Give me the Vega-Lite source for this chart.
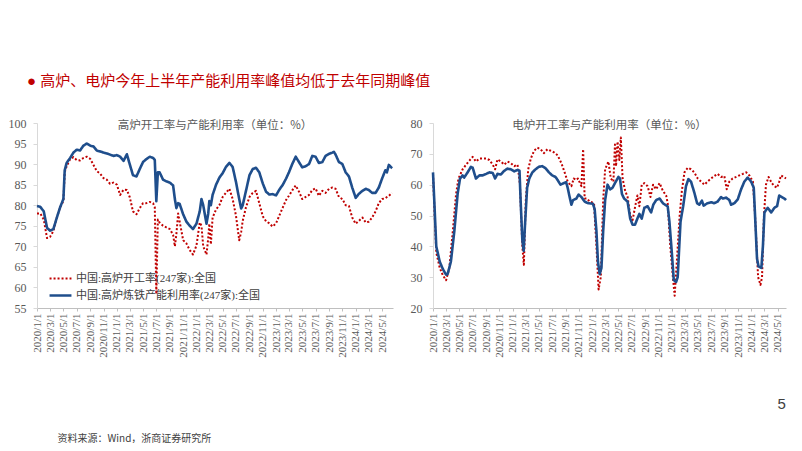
{
  "$schema": "https://vega.github.io/schema/vega-lite/v6.json",
  "background": "white",
  "padding": {"left": 8, "top": 74, "right": 0, "bottom": 0},
  "title": {"text": "●  高炉、电炉今年上半年产能利用率峰值均低于去年同期峰值", "anchor": "start", "dx": 19, "offset": 28, "font": "Liberation Sans, Noto Sans CJK SC", "fontSize": 15, "fontWeight": "normal", "color": "#C00000"},
  "spacing": 16,
  "config": {
    "view": {"stroke": null},
    "axis": {"grid": false, "labelFont": "Liberation Serif", "labelColor": "#595959", "domainColor": "#BFBFBF", "tickColor": "#BFBFBF"},
    "line": {"strokeCap": "butt", "strokeJoin": "round"}
  },
  "hconcat": [
    {
      "width": 356,
      "height": 185,
      "title": {"text": "高炉开工率与产能利用率（单位：%）", "offset": -14, "fontSize": 11.5, "font": "Noto Sans CJK SC", "fontWeight": "normal", "color": "#595959", "anchor": "middle"},
      "data": {"values": [
        {"d":"2020-01-01","a":78.0,"b":79.8},{"d":"2020-01-16","a":78.0,"b":79.6},{"d":"2020-02-01","a":76.5,"b":78.5},{"d":"2020-02-16","a":72.0,"b":74.5},
        {"d":"2020-03-01","a":72.3,"b":73.8},{"d":"2020-03-16","a":73.7,"b":74.2},{"d":"2020-04-01","a":77.0,"b":77.0},{"d":"2020-04-16","a":79.5,"b":79.5},
        {"d":"2020-05-01","a":81.0,"b":81.5},{"d":"2020-05-07","a":88.0,"b":88.5},{"d":"2020-05-16","a":89.5,"b":90.3},{"d":"2020-06-01","a":91.2,"b":91.5},
        {"d":"2020-06-16","a":91.7,"b":92.8},{"d":"2020-07-01","a":91.0,"b":93.5},{"d":"2020-07-16","a":90.9,"b":93.3},{"d":"2020-08-01","a":91.5,"b":94.5},
        {"d":"2020-08-16","a":91.8,"b":95.0},{"d":"2020-09-01","a":91.3,"b":94.5},{"d":"2020-09-16","a":89.8,"b":94.3},{"d":"2020-10-01","a":88.3,"b":93.3},
        {"d":"2020-10-16","a":87.7,"b":93.1},{"d":"2020-11-01","a":86.6,"b":92.8},{"d":"2020-11-16","a":86.2,"b":92.6},{"d":"2020-12-01","a":85.2,"b":92.3},
        {"d":"2020-12-16","a":85.5,"b":92.0},{"d":"2021-01-01","a":85.0,"b":92.2},{"d":"2021-01-16","a":82.5,"b":91.8},{"d":"2021-02-01","a":83.8,"b":90.8},
        {"d":"2021-02-16","a":83.7,"b":92.4},{"d":"2021-03-01","a":82.0,"b":90.0},{"d":"2021-03-16","a":78.5,"b":87.3},{"d":"2021-04-01","a":77.8,"b":87.0},
        {"d":"2021-04-16","a":79.3,"b":88.8},{"d":"2021-05-01","a":80.5,"b":90.5},{"d":"2021-05-16","a":80.5,"b":91.2},{"d":"2021-06-01","a":80.8,"b":91.8},
        {"d":"2021-06-16","a":80.5,"b":91.5},{"d":"2021-06-24","a":79.5,"b":91.0},{"d":"2021-07-01","a":58.4,"b":81.0},{"d":"2021-07-08","a":76.5,"b":88.0},
        {"d":"2021-07-16","a":75.8,"b":88.0},{"d":"2021-08-01","a":75.0,"b":86.2},{"d":"2021-08-16","a":74.6,"b":85.8},{"d":"2021-09-01","a":74.2,"b":85.5},
        {"d":"2021-09-16","a":72.8,"b":84.8},{"d":"2021-09-24","a":70.0,"b":81.5},{"d":"2021-10-01","a":73.0,"b":79.3},{"d":"2021-10-09","a":78.0,"b":80.5},
        {"d":"2021-10-16","a":76.0,"b":80.3},{"d":"2021-11-01","a":71.5,"b":77.8},{"d":"2021-11-16","a":70.7,"b":76.0},{"d":"2021-12-01","a":69.1,"b":75.0},
        {"d":"2021-12-16","a":68.0,"b":74.2},{"d":"2022-01-01","a":70.2,"b":75.5},{"d":"2022-01-16","a":75.8,"b":78.5},{"d":"2022-01-24","a":75.0,"b":81.5},
        {"d":"2022-02-01","a":70.0,"b":80.0},{"d":"2022-02-16","a":68.0,"b":75.5},{"d":"2022-02-24","a":72.0,"b":78.0},{"d":"2022-03-01","a":75.5,"b":81.0},
        {"d":"2022-03-08","a":70.5,"b":80.0},{"d":"2022-03-16","a":77.0,"b":82.5},{"d":"2022-04-01","a":79.0,"b":85.0},{"d":"2022-04-16","a":80.0,"b":86.7},
        {"d":"2022-05-01","a":82.0,"b":87.8},{"d":"2022-05-16","a":83.0,"b":89.3},{"d":"2022-06-01","a":84.0,"b":90.3},{"d":"2022-06-16","a":81.5,"b":89.3},
        {"d":"2022-07-01","a":77.5,"b":85.7},{"d":"2022-07-16","a":71.5,"b":81.5},{"d":"2022-07-25","a":73.5,"b":79.2},{"d":"2022-08-01","a":76.2,"b":80.0},
        {"d":"2022-08-16","a":79.5,"b":83.5},{"d":"2022-09-01","a":82.0,"b":87.3},{"d":"2022-09-16","a":83.0,"b":88.8},{"d":"2022-10-01","a":83.5,"b":89.1},
        {"d":"2022-10-16","a":80.5,"b":88.0},{"d":"2022-11-01","a":77.3,"b":85.3},{"d":"2022-11-16","a":76.1,"b":83.3},{"d":"2022-12-01","a":75.6,"b":82.6},
        {"d":"2022-12-16","a":74.8,"b":82.7},{"d":"2023-01-01","a":75.6,"b":82.4},{"d":"2023-01-16","a":77.5,"b":83.8},{"d":"2023-02-01","a":79.5,"b":85.0},
        {"d":"2023-02-16","a":81.3,"b":86.5},{"d":"2023-03-01","a":82.3,"b":88.0},{"d":"2023-03-16","a":83.6,"b":90.0},{"d":"2023-04-01","a":84.8,"b":91.8},
        {"d":"2023-04-16","a":83.3,"b":90.5},{"d":"2023-05-01","a":81.5,"b":89.2},{"d":"2023-05-16","a":82.0,"b":89.5},{"d":"2023-06-01","a":82.5,"b":90.0},
        {"d":"2023-06-16","a":83.7,"b":92.0},{"d":"2023-07-01","a":84.1,"b":91.8},{"d":"2023-07-16","a":82.3,"b":90.3},{"d":"2023-08-01","a":83.5,"b":90.5},
        {"d":"2023-08-16","a":83.0,"b":92.0},{"d":"2023-09-01","a":84.0,"b":92.5},{"d":"2023-09-16","a":84.3,"b":92.8},{"d":"2023-09-23","a":84.1,"b":93.0},
        {"d":"2023-10-01","a":84.0,"b":92.3},{"d":"2023-10-16","a":82.0,"b":90.5},{"d":"2023-11-01","a":81.5,"b":90.0},{"d":"2023-11-16","a":80.0,"b":88.0},
        {"d":"2023-12-01","a":79.8,"b":87.0},{"d":"2023-12-16","a":77.0,"b":84.3},{"d":"2024-01-01","a":75.5,"b":81.8},{"d":"2024-01-16","a":76.2,"b":82.8},
        {"d":"2024-02-01","a":77.0,"b":83.5},{"d":"2024-02-16","a":75.8,"b":84.0},{"d":"2024-03-01","a":76.0,"b":83.7},{"d":"2024-03-16","a":77.0,"b":83.0},
        {"d":"2024-04-01","a":78.5,"b":83.0},{"d":"2024-04-16","a":80.5,"b":84.3},{"d":"2024-05-01","a":81.5,"b":86.5},{"d":"2024-05-16","a":81.7,"b":88.5},
        {"d":"2024-05-23","a":82.0,"b":88.0},{"d":"2024-06-01","a":82.3,"b":89.8},{"d":"2024-06-16","a":83.0,"b":89.0}
      ]},
      "transform": [{"fold": ["a", "b"], "as": ["s", "v"]}],
      "mark": {"type": "line"},
      "encoding": {
        "x": {"field": "d", "type": "temporal",
          "scale": {"type": "utc", "nice": false, "domain": [{"year": 2020, "month": 1, "date": 1, "utc": true}, {"year": 2024, "month": 6, "date": 20, "utc": true}]},
          "axis": {"title": "资料来源：Wind，浙商证券研究所", "labelExpr": "utcFormat(datum.value, '%Y/%-m/%-d')", "tickCount": {"interval": "month", "step": 2},
            "labelAngle": 270, "labelAlign": "right", "labelBaseline": "middle", "labelFontSize": 11, "labelPadding": 2, "labelOverlap": false, "labelFlush": false, "tickSize": 3,
            "titleX": 20, "titleY": 130, "titleAlign": "left", "titleBaseline": "middle", "titleAngle": 0, "titleFont": "Noto Sans CJK SC", "titleFontSize": 10, "titleFontWeight": "normal", "titleColor": "#404040"}},
        "y": {"field": "v", "type": "quantitative", "scale": {"domain": [55, 100], "nice": false, "zero": false},
          "axis": {"title": null, "values": [55, 60, 65, 70, 75, 80, 85, 90, 95, 100], "labelFontSize": 12, "tickSize": 4, "labelPadding": 7, "domainColor": "#D9D9D9", "tickColor": "#D9D9D9"}},
        "color": {"field": "s", "type": "nominal", "scale": {"domain": ["a", "b"], "range": ["#C00000", "#1F4E8C"]},
          "legend": {"title": null, "orient": "none", "legendX": 11, "legendY": 149, "padding": 0, "labelLimit": 300, "labelExpr": "datum.label == 'a' ? '中国:高炉开工率(247家):全国' : '中国:高炉炼铁产能利用率(247家):全国'", "symbolType": "stroke", "symbolSize": 480, "clipHeight": 13, "rowPadding": 4, "labelOffset": 3, "labelFont": "Liberation Serif, Noto Sans CJK SC", "labelFontSize": 11, "labelColor": "#404040"}},
        "strokeDash": {"field": "s", "type": "nominal", "scale": {"domain": ["a", "b"], "range": [[2, 2], [1, 0]]},
          "legend": {"title": null, "orient": "none", "legendX": 11, "legendY": 149, "padding": 0, "labelLimit": 300, "labelExpr": "datum.label == 'a' ? '中国:高炉开工率(247家):全国' : '中国:高炉炼铁产能利用率(247家):全国'", "symbolType": "stroke", "symbolSize": 480, "clipHeight": 13, "rowPadding": 4, "labelOffset": 3, "labelFont": "Liberation Serif, Noto Sans CJK SC", "labelFontSize": 11, "labelColor": "#404040"}},
        "strokeWidth": {"field": "s", "type": "nominal", "scale": {"domain": ["a", "b"], "range": [2, 2.6]},
          "legend": {"title": null, "orient": "none", "legendX": 11, "legendY": 149, "padding": 0, "labelLimit": 300, "labelExpr": "datum.label == 'a' ? '中国:高炉开工率(247家):全国' : '中国:高炉炼铁产能利用率(247家):全国'", "symbolType": "stroke", "symbolSize": 480, "clipHeight": 13, "rowPadding": 4, "labelOffset": 3, "labelFont": "Liberation Serif, Noto Sans CJK SC", "labelFontSize": 11, "labelColor": "#404040"}}
      }
    },
    {
      "width": 353,
      "height": 185,
      "title": {"text": "电炉开工率与产能利用率（单位：%）", "offset": -14, "fontSize": 11.5, "font": "Noto Sans CJK SC", "fontWeight": "normal", "color": "#595959", "anchor": "middle"},
      "data": {"values": [
        {"d":"2020-01-01","s":"a","v":63.5},{"d":"2020-01-16","s":"a","v":38},{"d":"2020-02-01","s":"a","v":33},{"d":"2020-02-16","s":"a","v":30.5},
        {"d":"2020-03-01","s":"a","v":29},{"d":"2020-03-16","s":"a","v":33},{"d":"2020-04-01","s":"a","v":45},{"d":"2020-04-16","s":"a","v":57},
        {"d":"2020-04-27","s":"a","v":62},{"d":"2020-05-16","s":"a","v":65},{"d":"2020-06-01","s":"a","v":66.5},{"d":"2020-06-16","s":"a","v":67.8},
        {"d":"2020-07-01","s":"a","v":69},{"d":"2020-07-16","s":"a","v":67.5},{"d":"2020-08-01","s":"a","v":68.5},{"d":"2020-08-16","s":"a","v":68.5},
        {"d":"2020-09-01","s":"a","v":68.5},{"d":"2020-09-16","s":"a","v":68},{"d":"2020-10-01","s":"a","v":66.5},{"d":"2020-10-12","s":"a","v":65},
        {"d":"2020-10-23","s":"a","v":68.2},{"d":"2020-11-08","s":"a","v":67.5},{"d":"2020-11-23","s":"a","v":66.5},{"d":"2020-12-08","s":"a","v":67.5},
        {"d":"2020-12-23","s":"a","v":67},{"d":"2021-01-08","s":"a","v":66},{"d":"2021-01-23","s":"a","v":66.5},{"d":"2021-02-03","s":"a","v":60},
        {"d":"2021-02-14","s":"a","v":40},{"d":"2021-02-21","s":"a","v":34},{"d":"2021-03-02","s":"a","v":55},{"d":"2021-03-13","s":"a","v":65},
        {"d":"2021-03-25","s":"a","v":68.5},{"d":"2021-04-09","s":"a","v":71},{"d":"2021-04-24","s":"a","v":72},{"d":"2021-05-09","s":"a","v":71.5},
        {"d":"2021-05-24","s":"a","v":70.2},{"d":"2021-06-09","s":"a","v":71.5},{"d":"2021-06-24","s":"a","v":71},{"d":"2021-07-09","s":"a","v":70.5},
        {"d":"2021-07-26","s":"a","v":69.5},{"d":"2021-08-12","s":"a","v":67},{"d":"2021-08-27","s":"a","v":64},{"d":"2021-09-10","s":"a","v":61},
        {"d":"2021-09-27","s":"a","v":59.5},{"d":"2021-10-08","s":"a","v":62},{"d":"2021-10-20","s":"a","v":61.5},{"d":"2021-10-27","s":"a","v":62},
        {"d":"2021-11-12","s":"a","v":59.5},{"d":"2021-11-20","s":"a","v":71.5},{"d":"2021-11-27","s":"a","v":55.5},{"d":"2021-12-08","s":"a","v":55.5},
        {"d":"2021-12-20","s":"a","v":54.5},{"d":"2022-01-09","s":"a","v":54},{"d":"2022-01-20","s":"a","v":40},{"d":"2022-01-30","s":"a","v":26},
        {"d":"2022-02-09","s":"a","v":30},{"d":"2022-02-20","s":"a","v":55},{"d":"2022-03-01","s":"a","v":65},{"d":"2022-03-16","s":"a","v":67.5},
        {"d":"2022-03-27","s":"a","v":62},{"d":"2022-04-08","s":"a","v":61},{"d":"2022-04-15","s":"a","v":73},{"d":"2022-04-20","s":"a","v":66},
        {"d":"2022-04-27","s":"a","v":74},{"d":"2022-05-05","s":"a","v":68},{"d":"2022-05-12","s":"a","v":75.3},{"d":"2022-05-20","s":"a","v":62},
        {"d":"2022-06-01","s":"a","v":58},{"d":"2022-06-12","s":"a","v":56},{"d":"2022-06-24","s":"a","v":50},{"d":"2022-07-05","s":"a","v":48.5},
        {"d":"2022-07-17","s":"a","v":53},{"d":"2022-07-27","s":"a","v":56.5},{"d":"2022-08-05","s":"a","v":53},{"d":"2022-08-16","s":"a","v":60},
        {"d":"2022-08-28","s":"a","v":60.5},{"d":"2022-09-12","s":"a","v":59.5},{"d":"2022-09-25","s":"a","v":56},{"d":"2022-10-07","s":"a","v":60},
        {"d":"2022-10-21","s":"a","v":58.5},{"d":"2022-11-06","s":"a","v":60.5},{"d":"2022-11-21","s":"a","v":58},{"d":"2022-12-06","s":"a","v":56.5},
        {"d":"2022-12-13","s":"a","v":54},{"d":"2022-12-25","s":"a","v":40},{"d":"2023-01-06","s":"a","v":30},{"d":"2023-01-14","s":"a","v":24},
        {"d":"2023-01-24","s":"a","v":35},{"d":"2023-02-06","s":"a","v":50},{"d":"2023-02-16","s":"a","v":58},{"d":"2023-02-28","s":"a","v":64},
        {"d":"2023-03-15","s":"a","v":65.5},{"d":"2023-03-30","s":"a","v":65},{"d":"2023-04-14","s":"a","v":64},{"d":"2023-04-30","s":"a","v":62},
        {"d":"2023-05-15","s":"a","v":61},{"d":"2023-05-31","s":"a","v":60},{"d":"2023-06-14","s":"a","v":61},{"d":"2023-06-30","s":"a","v":62},
        {"d":"2023-07-15","s":"a","v":62.8},{"d":"2023-07-30","s":"a","v":63.5},{"d":"2023-08-15","s":"a","v":62.5},{"d":"2023-08-30","s":"a","v":62.8},
        {"d":"2023-09-10","s":"a","v":58.5},{"d":"2023-09-22","s":"a","v":61},{"d":"2023-10-07","s":"a","v":62},{"d":"2023-10-23","s":"a","v":62.5},
        {"d":"2023-11-07","s":"a","v":63},{"d":"2023-11-23","s":"a","v":63.5},{"d":"2023-12-08","s":"a","v":64},{"d":"2023-12-23","s":"a","v":63},
        {"d":"2024-01-08","s":"a","v":61},{"d":"2024-01-18","s":"a","v":50},{"d":"2024-02-01","s":"a","v":30},{"d":"2024-02-12","s":"a","v":27.5},
        {"d":"2024-02-19","s":"a","v":30},{"d":"2024-02-28","s":"a","v":50},{"d":"2024-03-08","s":"a","v":60},{"d":"2024-03-20","s":"a","v":62.5},
        {"d":"2024-04-04","s":"a","v":60.5},{"d":"2024-04-16","s":"a","v":59.5},{"d":"2024-04-28","s":"a","v":59},{"d":"2024-05-08","s":"a","v":61},
        {"d":"2024-05-16","s":"a","v":63},{"d":"2024-05-28","s":"a","v":62.5},{"d":"2024-06-08","s":"a","v":62},
        {"d":"2020-01-01","s":"b","v":64},{"d":"2020-01-08","s":"b","v":53},{"d":"2020-01-16","s":"b","v":40},{"d":"2020-02-01","s":"b","v":35},
        {"d":"2020-02-16","s":"b","v":32.5},{"d":"2020-03-01","s":"b","v":30.8},{"d":"2020-03-08","s":"b","v":31},{"d":"2020-03-23","s":"b","v":35},
        {"d":"2020-04-08","s":"b","v":45},{"d":"2020-04-23","s":"b","v":57},{"d":"2020-05-04","s":"b","v":62},{"d":"2020-05-16","s":"b","v":63},
        {"d":"2020-05-23","s":"b","v":62.3},{"d":"2020-06-08","s":"b","v":64},{"d":"2020-06-23","s":"b","v":65.8},{"d":"2020-07-01","s":"b","v":65.5},
        {"d":"2020-07-16","s":"b","v":62},{"d":"2020-08-01","s":"b","v":63},{"d":"2020-08-16","s":"b","v":63},{"d":"2020-09-01","s":"b","v":63.5},
        {"d":"2020-09-16","s":"b","v":64},{"d":"2020-10-01","s":"b","v":63.8},{"d":"2020-10-12","s":"b","v":62},{"d":"2020-10-23","s":"b","v":63.5},
        {"d":"2020-11-08","s":"b","v":63.3},{"d":"2020-11-23","s":"b","v":64.5},{"d":"2020-12-08","s":"b","v":65.2},{"d":"2020-12-23","s":"b","v":65},
        {"d":"2021-01-08","s":"b","v":64.3},{"d":"2021-01-23","s":"b","v":64.8},{"d":"2021-02-01","s":"b","v":64.5},{"d":"2021-02-06","s":"b","v":55},
        {"d":"2021-02-14","s":"b","v":42},{"d":"2021-02-20","s":"b","v":38.5},{"d":"2021-02-27","s":"b","v":48},{"d":"2021-03-08","s":"b","v":59},
        {"d":"2021-03-18","s":"b","v":62},{"d":"2021-04-01","s":"b","v":64},{"d":"2021-04-16","s":"b","v":65},{"d":"2021-05-01","s":"b","v":65.8},
        {"d":"2021-05-16","s":"b","v":66},{"d":"2021-06-01","s":"b","v":65.3},{"d":"2021-06-16","s":"b","v":64},{"d":"2021-07-01","s":"b","v":63},
        {"d":"2021-07-16","s":"b","v":62.5},{"d":"2021-07-26","s":"b","v":61.5},{"d":"2021-08-08","s":"b","v":60},{"d":"2021-08-23","s":"b","v":60.5},
        {"d":"2021-09-03","s":"b","v":60.8},{"d":"2021-09-10","s":"b","v":59},{"d":"2021-09-16","s":"b","v":57},{"d":"2021-09-27","s":"b","v":53.5},
        {"d":"2021-10-05","s":"b","v":55},{"d":"2021-10-20","s":"b","v":55.5},{"d":"2021-10-30","s":"b","v":56.8},{"d":"2021-11-12","s":"b","v":56},
        {"d":"2021-11-27","s":"b","v":54.5},{"d":"2021-12-12","s":"b","v":54},{"d":"2022-01-04","s":"b","v":53.8},{"d":"2022-01-12","s":"b","v":52},
        {"d":"2022-01-20","s":"b","v":45},{"d":"2022-01-27","s":"b","v":35},{"d":"2022-02-04","s":"b","v":31},{"d":"2022-02-12","s":"b","v":33},
        {"d":"2022-02-20","s":"b","v":45},{"d":"2022-03-01","s":"b","v":55},{"d":"2022-03-12","s":"b","v":60},{"d":"2022-03-24","s":"b","v":58.5},
        {"d":"2022-04-04","s":"b","v":59},{"d":"2022-04-15","s":"b","v":60.5},{"d":"2022-05-01","s":"b","v":62.5},{"d":"2022-05-08","s":"b","v":62},
        {"d":"2022-05-17","s":"b","v":57},{"d":"2022-05-27","s":"b","v":55.5},{"d":"2022-06-12","s":"b","v":54.5},{"d":"2022-06-24","s":"b","v":49},
        {"d":"2022-07-05","s":"b","v":47},{"d":"2022-07-16","s":"b","v":47},{"d":"2022-07-27","s":"b","v":49},{"d":"2022-08-05","s":"b","v":50.5},
        {"d":"2022-08-16","s":"b","v":49},{"d":"2022-08-28","s":"b","v":52.5},{"d":"2022-09-12","s":"b","v":53},{"d":"2022-09-28","s":"b","v":51},
        {"d":"2022-10-08","s":"b","v":53.5},{"d":"2022-10-21","s":"b","v":55},{"d":"2022-11-06","s":"b","v":55.5},{"d":"2022-11-21","s":"b","v":54},
        {"d":"2022-12-01","s":"b","v":53.5},{"d":"2022-12-13","s":"b","v":53},{"d":"2022-12-21","s":"b","v":48},{"d":"2023-01-01","s":"b","v":38},
        {"d":"2023-01-10","s":"b","v":29},{"d":"2023-01-21","s":"b","v":28.5},{"d":"2023-01-28","s":"b","v":30},{"d":"2023-02-10","s":"b","v":48},
        {"d":"2023-02-22","s":"b","v":53},{"d":"2023-03-07","s":"b","v":59.5},{"d":"2023-03-18","s":"b","v":61.8},{"d":"2023-03-30","s":"b","v":61},
        {"d":"2023-04-14","s":"b","v":57.5},{"d":"2023-04-27","s":"b","v":54},{"d":"2023-05-07","s":"b","v":53.5},{"d":"2023-05-19","s":"b","v":54.8},
        {"d":"2023-05-27","s":"b","v":53.2},{"d":"2023-06-14","s":"b","v":54},{"d":"2023-06-30","s":"b","v":54.3},{"d":"2023-07-15","s":"b","v":54},
        {"d":"2023-07-30","s":"b","v":54.5},{"d":"2023-08-15","s":"b","v":56},{"d":"2023-08-23","s":"b","v":55.5},{"d":"2023-09-07","s":"b","v":55.8},
        {"d":"2023-09-22","s":"b","v":55},{"d":"2023-09-30","s":"b","v":53.5},{"d":"2023-10-15","s":"b","v":54},{"d":"2023-10-31","s":"b","v":55.3},
        {"d":"2023-11-15","s":"b","v":58.5},{"d":"2023-11-30","s":"b","v":61},{"d":"2023-12-15","s":"b","v":62.3},{"d":"2023-12-31","s":"b","v":61},
        {"d":"2024-01-12","s":"b","v":59},{"d":"2024-01-18","s":"b","v":50},{"d":"2024-01-27","s":"b","v":36},{"d":"2024-02-03","s":"b","v":33.5},
        {"d":"2024-02-16","s":"b","v":33},{"d":"2024-02-23","s":"b","v":40},{"d":"2024-03-01","s":"b","v":51},{"d":"2024-03-16","s":"b","v":52.5},
        {"d":"2024-04-01","s":"b","v":51},{"d":"2024-04-16","s":"b","v":52.5},{"d":"2024-04-28","s":"b","v":53},{"d":"2024-05-08","s":"b","v":56.5},
        {"d":"2024-05-19","s":"b","v":56},{"d":"2024-06-01","s":"b","v":55.5},{"d":"2024-06-08","s":"b","v":55}
      ]},
      "mark": {"type": "line"},
      "encoding": {
        "x": {"field": "d", "type": "temporal",
          "scale": {"type": "utc", "nice": false, "domain": [{"year": 2020, "month": 1, "date": 1, "utc": true}, {"year": 2024, "month": 6, "date": 8, "utc": true}]},
          "axis": {"title": "5", "labelExpr": "utcFormat(datum.value, '%Y/%-m/%-d')", "tickCount": {"interval": "month", "step": 2},
            "labelAngle": 270, "labelAlign": "right", "labelBaseline": "middle", "labelFontSize": 11, "labelPadding": 2, "labelOverlap": false, "labelFlush": false, "tickSize": 3,
            "titleX": 344, "titleY": 95, "titleAlign": "left", "titleBaseline": "middle", "titleAngle": 0, "titleFont": "Liberation Sans", "titleFontSize": 15, "titleFontWeight": "normal", "titleColor": "#404040"}},
        "y": {"field": "v", "type": "quantitative", "scale": {"domain": [20, 80], "nice": false, "zero": false},
          "axis": {"title": null, "values": [20, 30, 40, 50, 60, 70, 80], "labelFontSize": 12, "tickSize": 4, "labelPadding": 7, "domainColor": "#D9D9D9", "tickColor": "#D9D9D9"}},
        "color": {"field": "s", "type": "nominal", "scale": {"domain": ["a", "b"], "range": ["#C00000", "#1F4E8C"]},
          "legend": {"title": null, "orient": "none", "legendX": 8, "legendY": 156, "padding": 0, "labelLimit": 300, "labelExpr": "datum.label == 'a' ? '中国:开工率:电炉:全国' : '中国:产能利用率:电炉'", "symbolType": "stroke", "symbolSize": 500, "clipHeight": 13, "rowPadding": 2, "labelOffset": 3, "labelFont": "Liberation Serif, Noto Sans CJK SC", "labelFontSize": 11, "labelColor": "#404040"}},
        "strokeDash": {"field": "s", "type": "nominal", "scale": {"domain": ["a", "b"], "range": [[2, 2], [1, 0]]},
          "legend": {"title": null, "orient": "none", "legendX": 8, "legendY": 156, "padding": 0, "labelLimit": 300, "labelExpr": "datum.label == 'a' ? '中国:开工率:电炉:全国' : '中国:产能利用率:电炉'", "symbolType": "stroke", "symbolSize": 500, "clipHeight": 13, "rowPadding": 2, "labelOffset": 3, "labelFont": "Liberation Serif, Noto Sans CJK SC", "labelFontSize": 11, "labelColor": "#404040"}},
        "strokeWidth": {"field": "s", "type": "nominal", "scale": {"domain": ["a", "b"], "range": [2, 2.6]},
          "legend": {"title": null, "orient": "none", "legendX": 8, "legendY": 156, "padding": 0, "labelLimit": 300, "labelExpr": "datum.label == 'a' ? '中国:开工率:电炉:全国' : '中国:产能利用率:电炉'", "symbolType": "stroke", "symbolSize": 500, "clipHeight": 13, "rowPadding": 2, "labelOffset": 3, "labelFont": "Liberation Serif, Noto Sans CJK SC", "labelFontSize": 11, "labelColor": "#404040"}}
      }
    }
  ]
}
